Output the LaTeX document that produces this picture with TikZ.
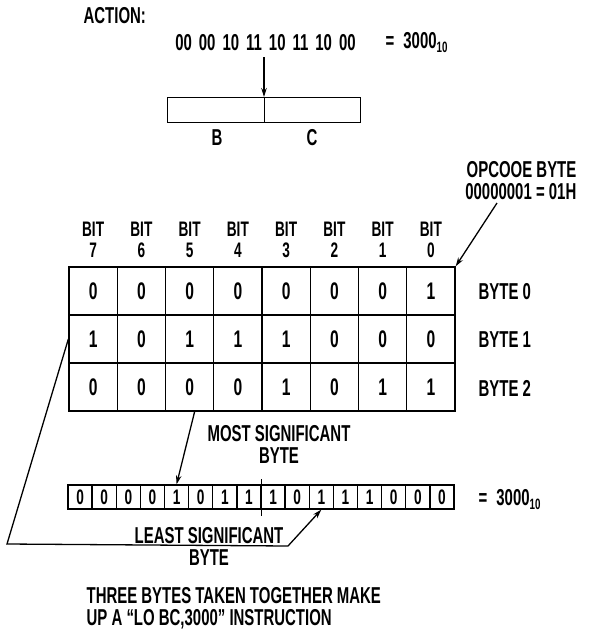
\documentclass[tikz,border=0pt]{standalone}
\usepackage{fontspec}
\setmainfont{Liberation Sans}[UprightFont=* Bold,FakeStretch=0.65]
\usetikzlibrary{arrows.meta}
\newcommand\mysubn[1]{\raisebox{-4pt}{\fontsize{15}{15}\selectfont #1}}
\begin{document}
\begin{tikzpicture}[x=1pt,y=-1pt,line width=1.3pt,
  txt/.style={font=\fontsize{23}{22}\selectfont,inner sep=0pt},
  bitlab/.style={font=\fontsize{21}{21}\selectfont,inner sep=0pt,align=center},
  cell/.style={draw,minimum width=48.25pt,minimum height=48pt,inner sep=0pt,font=\fontsize{24}{24}\selectfont},
  bcell/.style={draw,minimum width=24.125pt,minimum height=24pt,inner sep=0pt,font=\fontsize{21}{21}\selectfont},
  regbox/.style={draw,minimum height=25pt,inner sep=0pt,anchor=north west},
  arr/.style={-{Stealth[length=9pt,width=5.5pt]},line width=1.3pt}]
\useasboundingbox (0,0) rectangle (594,633);

% top part
\node[txt,anchor=west] (action) at (83,16) {ACTION:};
\node[txt] (bin) at (265.5,43) {\spaceskip=7pt 00 00 10 11 10 11 10 00};
\node[txt,anchor=west] (eq1) at (385,43) {=\hspace{9pt}3000\mysubn{10}};
\node[regbox,minimum width=97pt] (regB) at (167,97) {};
\node[regbox,minimum width=96pt] (regC) at (264,97) {};
\node[txt] (labB) at (217,138) {B};
\node[txt] (labC) at (312,138) {C};
\coordinate (bintop) at (264,57);
\draw[arr] (bintop) -- (regC.north west);

% opcode
\node[txt,anchor=east] (op1) at (577,170) {OPCOOE BYTE};
\node[txt,anchor=east] (op2) at (577,192) {00000001 = 01H};
\coordinate (opc) at (497,203);

% grid
\foreach \r/\vals in {0/{0,0,0,0,0,0,0,1},1/{1,0,1,1,1,0,0,0},2/{0,0,0,0,1,0,1,1}} {
  \foreach \v [count=\k from 0] in \vals {
    \node[cell] (c-\r-\k) at ({69+48.25*(\k+0.5)},{267+48*(\r+0.5)}) {\v};
  }
}
\foreach \k in {0,...,7} {
  \pgfmathtruncatemacro\bb{7-\k}
  \node[bitlab] (bit-\k) at ({69+48.25*(\k+0.5)},240) {BIT\\\bb};
}
\node[txt,anchor=west] (byte0) at (478,292) {BYTE 0};
\node[txt,anchor=west] (byte1) at (478,340) {BYTE 1};
\node[txt,anchor=west] (byte2) at (478,388) {BYTE 2};
\draw[arr] (opc) -- (c-0-7.north east);

% bottom row
\foreach \v [count=\k from 0] in {0,0,0,0,1,0,1,1,1,0,1,1,1,0,0,0} {
  \node[bcell] (b-\k) at ({68+24.125*(\k+0.5)},497) {\v};
}
\draw ([yshift=5pt]b-7.north east) -- ([yshift=-6pt]b-7.south east);
\node[txt,anchor=west] (eq2) at (478,500) {=\hspace{9pt}3000\mysubn{10}};

\node[txt,align=center] (msb) at (279,444) {MOST SIGNIFICANT\\BYTE};
\draw[arr] ([xshift=5pt]c-2-2.south) -- (b-4.north);

\node[txt,align=center] (lsb) at (209,546) {LEAST SIGNIFICANT\\BYTE};
\coordinate (k1) at (7,544);
\coordinate (k2) at (288,546);
\draw[arr] (c-1-0.west) -- (k1) -- (k2) -- (b-10.south);

\node[txt,align=left,anchor=north west] (note) at (86,587) {THREE BYTES TAKEN TOGETHER MAKE\\UP A ``LO BC,3000'' INSTRUCTION};
\end{tikzpicture}
\end{document}
